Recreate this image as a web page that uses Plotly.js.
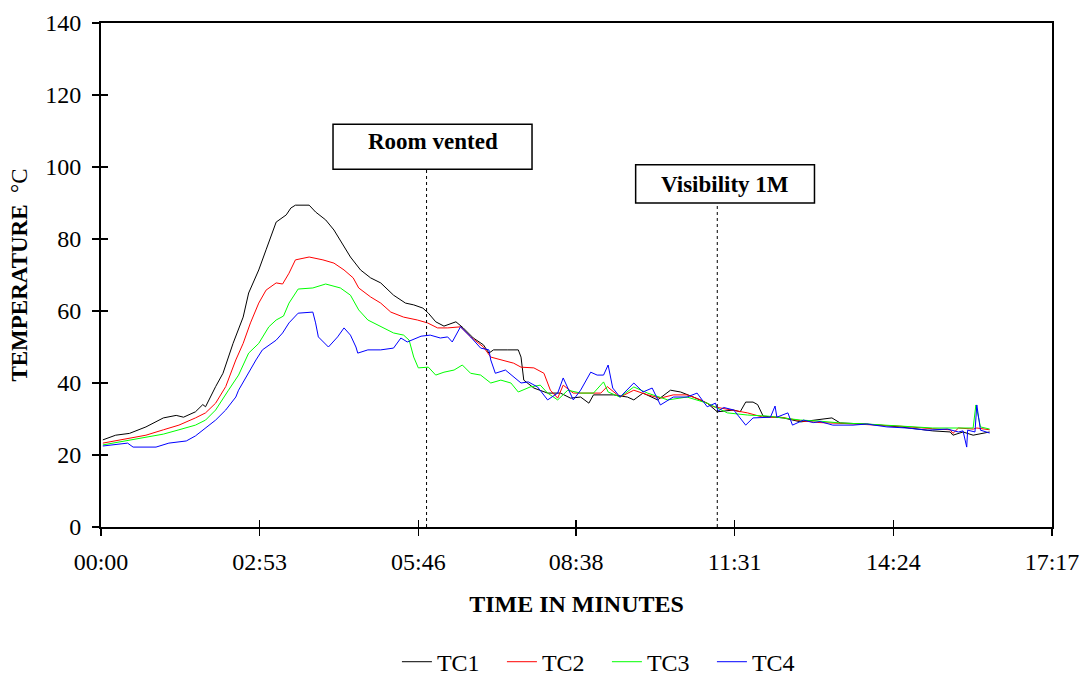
<!DOCTYPE html>
<html>
<head>
<meta charset="utf-8">
<script src="https://cdn.plot.ly/plotly-3.0.1.min.js"></script>
<style>html,body{margin:0;padding:0;background:#fff;}#chart{width:1082px;height:684px;}</style>
</head>
<body>
<div id="chart"></div>
<script>
// time in seconds, temperature in °C
const tc1Time = [2,16,31,49,68,82,90,103,111,114,125,133,144,155,161,172,180,191,202,207,212,227,234,245,254,261,272,283,294,305,319,332,341,351,357,365,374,387,395,406,417,423,428,443,455,458,461,472,487,501,512,523,532,537,552,559,574,581,591,607,621,632,646,661,672,690,697,703,711,716,722,744,763,781,797,806,835,871,907,926,929,940,951,969];
const tc1Temp = [24.2,25.5,26,27.8,30.3,31,30.5,32,34,33.4,39,42.7,51,58.3,65,71.4,77,84.7,86.7,88.6,89.4,89.4,87.5,85.3,82.5,79.7,75,71.4,69.2,67.8,64.4,62.2,61.7,60.8,59.4,57,55.8,57,55.3,52.5,50.6,48.3,49.2,49.2,49.2,47.2,40.8,38.6,37.2,37.2,35.8,36.1,34.4,36.7,36.7,36.7,36.1,35.3,37.2,35.3,38,37.5,36.1,34.4,32,32.5,32,34.7,34.7,34,30.8,30.3,29.2,29.7,30.3,28.9,28.6,27.8,26.7,26.4,25.5,26.4,25.5,26.4];

const tc2Time = [2,31,49,68,85,103,114,125,136,147,155,163,172,180,191,198,205,212,227,242,254,265,275,281,294,305,316,330,345,356,367,378,392,403,417,425,436,450,458,472,483,490,498,504,515,530,545,552,566,581,596,610,624,639,654,668,686,705,722,741,763,784,806,835,871,907,926,929,935,951,955,969];
const tc2Temp = [23.3,24.7,25.5,27,28.3,30.3,31.7,34.4,39,46.4,51,56.7,62.2,65.8,67.8,67.5,70.5,74.2,75,74.2,73.3,71.4,69.2,66.4,63.9,62.2,59.7,58.3,57.5,56.7,55.3,55.3,55.6,52.8,50,47.2,46.4,45.5,44.4,44.2,42.7,38,35.8,39.4,37.2,37.2,37.2,39,36.1,38,36.7,35.8,36.7,36.7,35.3,33.4,32.5,31.7,30.5,30.5,29.5,29,28.8,28.5,28,27.3,27,26,27.5,27.2,27.5,27];

const tc3Time = [2,31,68,85,103,114,125,139,150,161,172,183,191,199,205,215,231,245,261,272,278,281,291,305,319,330,336,341,346,357,365,374,385,394,403,414,425,436,447,455,468,479,487,498,509,523,537,548,553,566,581,596,618,639,661,683,705,727,741,763,784,806,835,871,907,940,951,954,959,969];
const tc3Temp = [22.8,24.2,25.8,27,28.3,29.7,32.5,38,42.2,48.3,51,55.6,57.5,58.6,62.2,66.1,66.4,67.5,66.4,64.4,61.7,60.3,57.5,55.6,53.9,53.3,51.9,47.2,44.2,44.4,42.2,43,43.6,45,42.7,42.2,40,40.8,40,37.5,38.9,39.4,37.2,35.3,38,37.2,37.2,40.3,37.5,36.1,38.9,37.2,35.3,36.1,34.4,31.7,31.1,30.8,30.3,29.7,29.4,28.9,28.6,28.1,27.5,27.5,27.5,33.9,27.8,27.2];

const tc4Time = [2,29,35,60,74,93,103,114,125,136,147,150,158,169,176,191,198,205,215,231,234,237,248,258,265,272,278,280,291,305,319,327,334,349,359,370,378,383,392,403,414,423,425,430,441,450,458,466,476,487,498,504,515,523,534,541,548,553,558,566,581,591,601,610,624,639,650,661,670,673,679,690,703,711,730,735,737,749,754,766,777,784,798,820,835,857,879,901,923,935,940,944,945,953,955,959,969];
const tc4Temp = [22.5,23.3,22.2,22.2,23.3,23.9,25.3,27.5,29.7,32.5,36.1,38,41.7,46.4,49.2,51.9,53.9,56.7,59.4,59.7,56.7,52.8,50,52.8,55.3,53.3,50,48.3,49.2,49.2,49.7,52.5,51.4,53,53.3,52.5,52.8,51.4,55.6,52.8,49.7,49.2,46.4,42.7,43.6,41.7,40,40.3,38.9,35.3,37.2,41.4,35.3,38,43,42.2,42.2,45,38.6,36.1,40,37.5,38.6,33.9,36.1,36.1,37.2,33.4,34.4,32.2,33.2,32.5,28.3,30.3,30.5,33.6,30.5,31.7,28.3,29.7,29,29.3,28.3,28.3,28.6,27.8,27.5,26.9,27.2,26.4,26.7,22.2,26.9,26.4,33.9,26.9,26.1];

const seriesNames = ["TC1","TC2","TC3","TC4"];
const seriesColors = ["#000000","#ff0000","#00ff00","#0000ff"];

const tickVals = [0,173,346,518,691,864,1037];
const tickText = ["00:00","02:53","05:46","08:38","11:31","14:24","17:17"];

const eventLabels = ["Room vented","Visibility 1M"];
const eventTimes = [355,672];

const times = [tc1Time, tc2Time, tc3Time, tc4Time];
const temps = [tc1Temp, tc2Temp, tc3Temp, tc4Temp];

const traces = seriesNames.map((n,i)=>({
  x: times[i], y: temps[i], name: n, type: 'scatter', mode: 'lines',
  line: {color: seriesColors[i], width: 1}
}));
// invisible helper trace so the crossing-tick overlay axes are drawn
traces.push({x:[0], y:[0], xaxis:'x2', yaxis:'y2', mode:'markers', marker:{opacity:0}, showlegend:false, hoverinfo:'skip'});

const serif = '"Liberation Serif", "Times New Roman", serif';
const font = {family: serif, color: '#000', size: 24};

const boxes = [
  {x0: 253, x1: 470, y0: 99.4, y1: 111.9, ty: 107.0},
  {x0: 583, x1: 778, y0: 90, y1: 100.6, ty: 95.2}
];

const shapes = [];
const annotations = [];
eventLabels.forEach((lab,i)=>{
  const b = boxes[i];
  shapes.push({type:'line', xref:'x', yref:'y', x0: eventTimes[i], x1: eventTimes[i], y0: 0, y1: b.y0,
    line:{color:'#000', width:1, dash:'dot'}});
  shapes.push({type:'rect', xref:'x', yref:'y', x0:b.x0, x1:b.x1, y0:b.y0, y1:b.y1,
    line:{color:'#000', width:1.5}, fillcolor:'rgba(255,255,255,0)'});
  annotations.push({xref:'x', yref:'y', x:(b.x0+b.x1)/2, y:b.ty, text:'<b>'+lab+'</b>', showarrow:false,
    font:{family:serif, size:23, color:'#000'}});
});

const layout = {
  width: 1082, height: 684,
  margin: {l: 101, r: 30, t: 23, b: 157, autoexpand: false},
  paper_bgcolor: '#fff', plot_bgcolor: '#fff',
  font: font,
  showlegend: true,
  legend: {orientation: 'h', x: 0.532, xanchor: 'center', yref: 'container', y: 0.032, yanchor: 'middle',
    font: {family: serif, size: 24, color: '#000'}, itemwidth: 30, tracegroupgap: 0,
    entrywidth: 60, entrywidthmode: 'pixels'},
  xaxis: {
    range: [0, 1037], tickvals: tickVals, ticktext: tickText, automargin: false,
    showgrid: false, zeroline: false, showline: true, linecolor: '#000', linewidth: 2, mirror: true,
    ticks: 'outside', ticklen: 7, tickwidth: 1.5, tickcolor: '#000', ticklabelstandoff: 5,
    title: {text: '<b>TIME IN MINUTES</b>', font: {family: serif, size: 24, color: '#000'}, standoff: 21},
    tickfont: {family: serif, size: 24, color: '#000'}
  },
  yaxis: {
    range: [0, 140], dtick: 20, tick0: 0, automargin: false,
    showgrid: false, zeroline: false, showline: true, linecolor: '#000', linewidth: 2, mirror: true,
    ticks: 'outside', ticklen: 7, tickwidth: 1.5, tickcolor: '#000', ticklabelstandoff: 6,
    title: {text: '<b>TEMPERATURE</b>&nbsp;&nbsp;°C', font: {family: serif, size: 23, color: '#000'}, standoff: 11},
    tickfont: {family: serif, size: 24, color: '#000'}
  },
  xaxis2: {overlaying: 'x', range: [0, 1037], tickvals: tickVals, showticklabels: false, ticks: 'inside', ticklen: 7,
    tickwidth: 1.5, tickcolor: '#000', showgrid: false, zeroline: false, showline: false, automargin: false},
  yaxis2: {overlaying: 'y', range: [0, 140], dtick: 20, tick0: 0, showticklabels: false, ticks: 'inside', ticklen: 7,
    tickwidth: 1.5, tickcolor: '#000', showgrid: false, zeroline: false, showline: false, side: 'left', automargin: false},
  shapes: shapes,
  annotations: annotations
};

Plotly.newPlot('chart', traces, layout, {displayModeBar: false, staticPlot: true});
</script>
</body>
</html>
